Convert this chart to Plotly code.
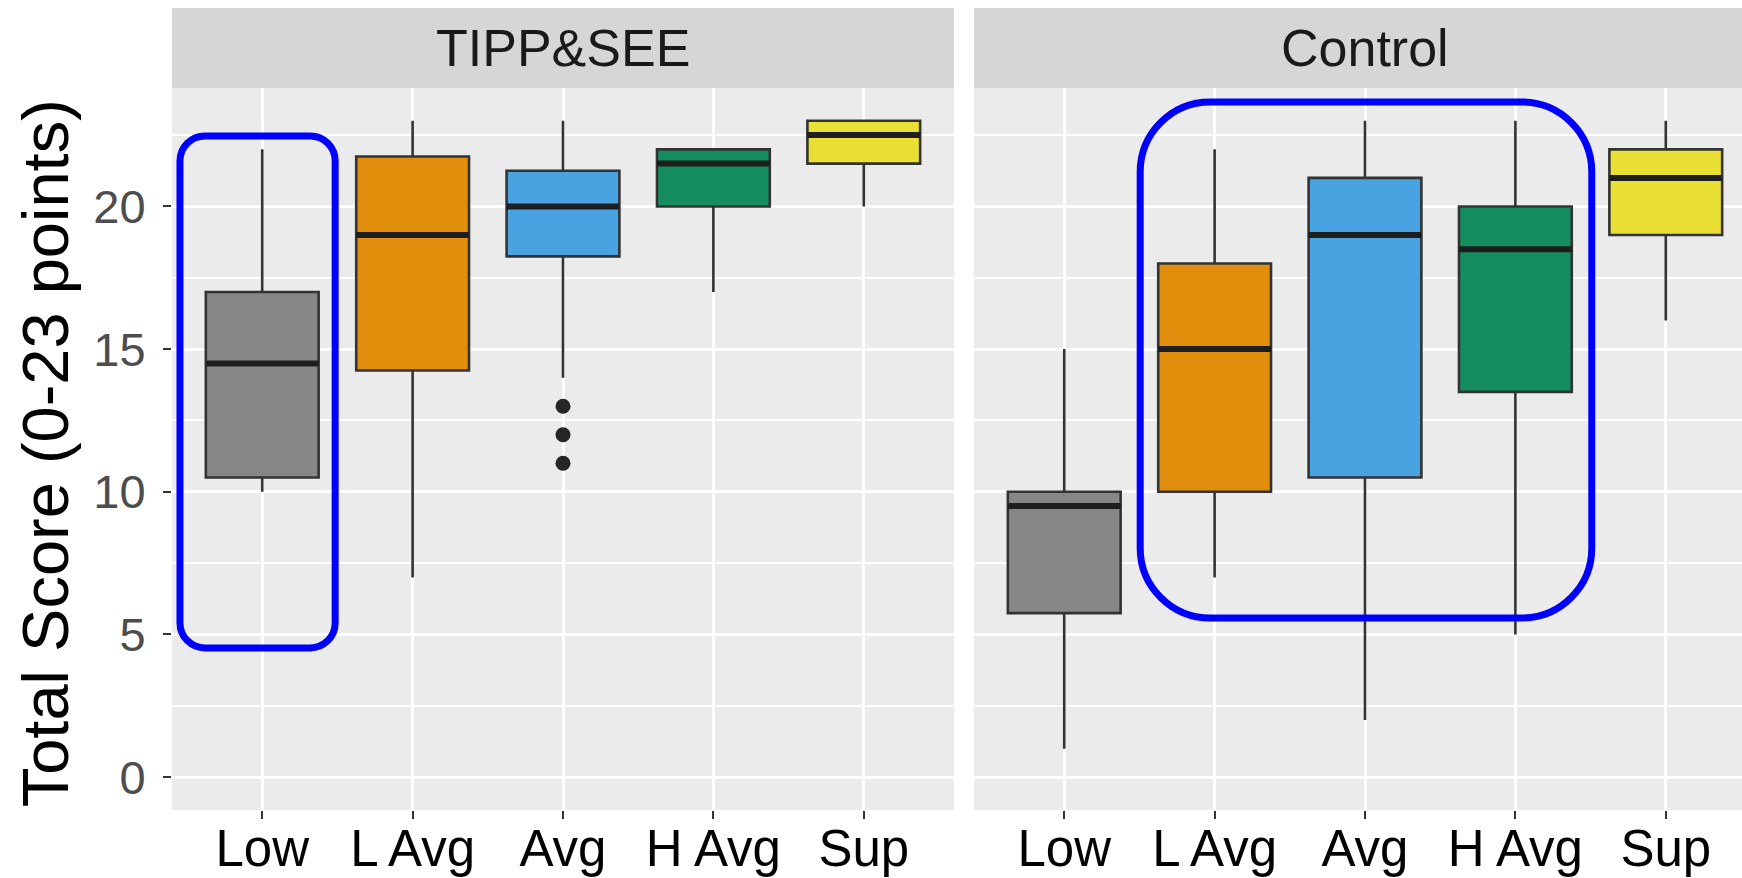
import plotly.graph_objects as go

# ---------------- data ----------------
categories = ["Low", "L Avg", "Avg", "H Avg", "Sup"]
panels = ["TIPP&SEE", "Control"]

tipp_q1 = [10.5, 14.25, 18.25, 20.0, 21.5]
tipp_median = [14.5, 19.0, 20.0, 21.5, 22.5]
tipp_q3 = [17.0, 21.75, 21.25, 22.0, 23.0]
tipp_lower = [10.0, 7.0, 14.0, 17.0, 20.0]
tipp_upper = [22.0, 23.0, 23.0, 22.0, 23.0]
tipp_outlier_cat = ["Avg", "Avg", "Avg"]
tipp_outlier_val = [13, 12, 11]

ctrl_q1 = [5.75, 10.0, 10.5, 13.5, 19.0]
ctrl_median = [9.5, 15.0, 19.0, 18.5, 21.0]
ctrl_q3 = [10.0, 18.0, 21.0, 20.0, 22.0]
ctrl_lower = [1.0, 7.0, 2.0, 5.0, 16.0]
ctrl_upper = [15.0, 22.0, 23.0, 23.0, 23.0]

y_ticks = [0, 5, 10, 15, 20]
y_minor = [2.5, 7.5, 12.5, 17.5, 22.5]

# ---------------- style ----------------
fills = ["#878787", "#E08E0B", "#48A3E0", "#148D5F", "#EADF35"]
outline = "#333333"
FONT = "Arial, Liberation Sans, sans-serif"
BOX_W = 0.75

W, H = 1742, 878
ML, MR, MT, MB = 172, 0, 88, 68
plot_w = W - ML - MR
plot_h = H - MT - MB
p1_px = 782              # panel width in px
gap_px = 20
unit_px = p1_px / 5.2
d1 = [0, p1_px / plot_w]
d2 = [(p1_px + gap_px) / plot_w, 1]
x2_max = 0.4 + (plot_w - p1_px - gap_px) / unit_px

fig = go.Figure()
pos = list(range(1, len(categories) + 1))
cat_pos = {c: p for c, p in zip(categories, pos)}

panel_data = [
    (tipp_q1, tipp_median, tipp_q3, tipp_lower, tipp_upper, "x", "y"),
    (ctrl_q1, ctrl_median, ctrl_q3, ctrl_lower, ctrl_upper, "x2", "y2"),
]
for q1, med, q3, lo, hi, xa, ya in panel_data:
    for i, c in enumerate(categories):
        p = cat_pos[c]
        fig.add_trace(go.Box(
            x=[p], q1=[q1[i]], median=[med[i]], q3=[q3[i]],
            lowerfence=[lo[i]], upperfence=[hi[i]],
            width=BOX_W, whiskerwidth=0, boxpoints=False,
            fillcolor=fills[i], line=dict(color=outline, width=2.6),
            xaxis=xa, yaxis=ya, showlegend=False, hoverinfo="skip",
        ))
        # thicker median bar (ggplot fatten)
        fig.add_trace(go.Scatter(
            x=[p - BOX_W / 2, p + BOX_W / 2], y=[med[i], med[i]],
            mode="lines", line=dict(color="#1E1E1E", width=6),
            xaxis=xa, yaxis=ya, showlegend=False, hoverinfo="skip",
        ))

fig.add_trace(go.Scatter(
    x=[cat_pos[c] for c in tipp_outlier_cat], y=tipp_outlier_val,
    mode="markers", marker=dict(color="#262626", size=15),
    xaxis="x", yaxis="y", showlegend=False, hoverinfo="skip",
))

grid_major = dict(showgrid=True, gridcolor="white", gridwidth=3, zeroline=False,
                  automargin=False)

fig.update_layout(
    width=W, height=H,
    margin=dict(l=ML, r=MR, t=MT, b=MB, pad=0, autoexpand=False),
    paper_bgcolor="white", plot_bgcolor="#EBEBEB",
    font=dict(family=FONT),
    xaxis=dict(domain=d1, range=[0.4, 5.6], tickvals=pos, ticktext=categories,
               ticks="outside", ticklen=8, tickwidth=2, tickcolor=outline,
               tickfont=dict(size=51, color="black"), ticklabelstandoff=-14,
               anchor="y", **grid_major),
    xaxis2=dict(domain=d2, range=[0.4, x2_max], tickvals=pos, ticktext=categories,
                ticks="outside", ticklen=8, tickwidth=2, tickcolor=outline,
                tickfont=dict(size=51, color="black"), ticklabelstandoff=-14,
                anchor="y2", **grid_major),
    yaxis=dict(domain=[0, 1], range=[-1.15, 24.15], tickvals=y_ticks,
               ticks="outside", ticklen=8, tickwidth=2, tickcolor=outline,
               tickfont=dict(size=47, color="#4D4D4D"), ticklabelstandoff=8,
               minor=dict(tickvals=y_minor, showgrid=True, gridcolor="white", gridwidth=1.5),
               anchor="x", **grid_major),
    yaxis2=dict(domain=[0, 1], range=[-1.15, 24.15], tickvals=y_ticks,
                showticklabels=False, ticks="",
                minor=dict(tickvals=y_minor, showgrid=True, gridcolor="white", gridwidth=1.5),
                anchor="x2", matches="y", **grid_major),
)

# facet strips
strip_top = 1 + (MT - 8) / plot_h
p2_ext = p1_px / (plot_w - p1_px - gap_px)
for label, xr, yr, x1 in [(panels[0], "x domain", "y domain", 1.0),
                          (panels[1], "x2 domain", "y2 domain", p2_ext)]:
    fig.add_shape(type="rect", xref=xr, yref=yr, x0=0, x1=x1, y0=1, y1=strip_top,
                  fillcolor="#D6D6D6", line=dict(width=0), layer="below")
    fig.add_annotation(text=label, xref=xr, yref=yr, x=x1 / 2, y=(1 + strip_top) / 2,
                       xanchor="center", yanchor="middle", showarrow=False,
                       font=dict(size=52, color="#1A1A1A", family=FONT))

# y-axis title
fig.add_annotation(text="Total Score (0-23 points)", xref="paper", yref="paper",
                   x=(45 - ML) / plot_w, y=0.494, xanchor="center", yanchor="middle",
                   textangle=-90, showarrow=False,
                   font=dict(size=65, color="black", family=FONT))


# blue rounded highlight boxes
def rounded(x0, x1, y0, y1, rx, ry):
    k = 0.5523
    return (f"M {x0+rx},{y1} L {x1-rx},{y1} "
            f"C {x1-rx*(1-k)},{y1} {x1},{y1-ry*(1-k)} {x1},{y1-ry} "
            f"L {x1},{y0+ry} "
            f"C {x1},{y0+ry*(1-k)} {x1-rx*(1-k)},{y0} {x1-rx},{y0} "
            f"L {x0+rx},{y0} "
            f"C {x0+rx*(1-k)},{y0} {x0},{y0+ry*(1-k)} {x0},{y0+ry} "
            f"L {x0},{y1-ry} "
            f"C {x0},{y1-ry*(1-k)} {x0+rx*(1-k)},{y1} {x0+rx},{y1} Z")


y_unit_px = plot_h / 25.3
hl = [
    ("x", "y", 0.453, 1.485, 4.53, 22.47, 25),
    ("x2", "y2", 1.505, 4.508, 5.58, 23.66, 70),
]
for xr, yr, x0, x1, y0, y1, rpx in hl:
    fig.add_shape(type="path", xref=xr, yref=yr,
                  path=rounded(x0, x1, y0, y1, rpx / unit_px, rpx / y_unit_px),
                  line=dict(color="#0000FF", width=7), layer="above")

fig.write_html(
    "out.html",
    config={"displayModeBar": False},
    post_script="document.body.style.margin='0';document.body.style.overflow='hidden';",
)
